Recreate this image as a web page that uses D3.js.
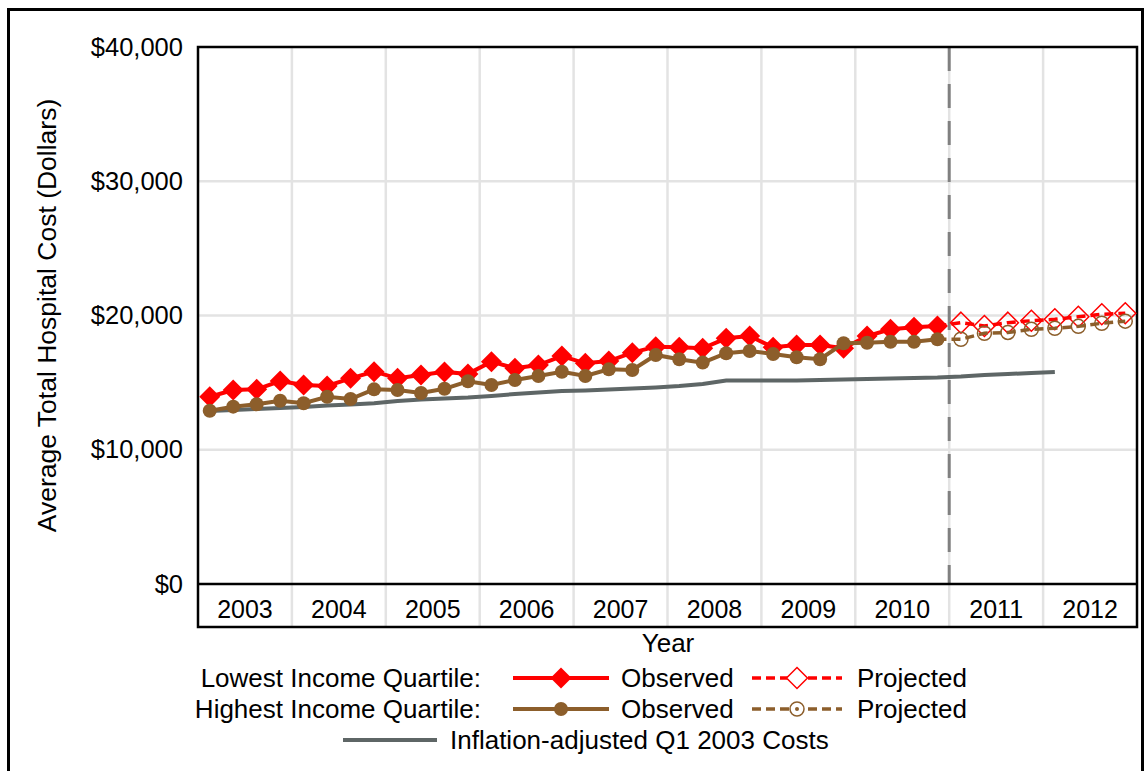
<!DOCTYPE html>
<html><head><meta charset="utf-8">
<script src="https://cdn.jsdelivr.net/npm/d3@7"></script>
<style>body{margin:0;background:#fff;} svg{display:block;font-family:"Liberation Sans",Arial,sans-serif;}</style>
</head><body>
<svg id="c" width="1145" height="771"></svg>
<script>
const years = ["2003","2004","2005","2006","2007","2008","2009","2010","2011","2012"];
const yTicks = [0, 10000, 20000, 30000, 40000];
// quarterly values, quarter index 0 = 2003 Q1
const lowestObserved = [13950,14450,14500,15120,14820,14750,15320,15815,15320,15570,15800,15650,16560,16070,16310,16980,16440,16610,17230,17680,17630,17560,18300,18470,17630,17800,17800,17560,18470,18970,19120,19220];
const highestObserved = [12910,13210,13390,13650,13460,13950,13780,14500,14450,14230,14540,15100,14820,15200,15490,15815,15490,15990,15940,17060,16740,16490,17190,17360,17130,16890,16740,17930,17975,18050,18050,18230];
const lowestProjected = [19220,19465,19220,19465,19610,19720,19910,20090,20170]; // starts at last observed quarter (index 31)
const highestProjected = [18230,18230,18680,18740,18970,19050,19190,19420,19580]; // starts at index 31
const inflationAdjusted = [12890,12960,13040,13110,13185,13300,13370,13460,13630,13745,13820,13890,14005,14150,14265,14375,14415,14490,14560,14640,14750,14900,15160,15160,15160,15160,15195,15230,15270,15310,15345,15380,15455,15570,15640,15720,15790];
const projectionStart = 32; // quarter boundary (2011 Q1)

const svg = d3.select("#c");
const L = 198, R = 1137, T = 47, B = 584, bandB = 627;
const x = d3.scaleLinear().domain([0, years.length * 4]).range([L, R]);
const xq = i => x(i + 0.5);
const y = d3.scaleLinear().domain([0, 40000]).range([B, T]);
const xb = d3.scaleBand().domain(years).range([L, R]);

const RED = "#ff0000", BROWN = "#8c5e2b", GRAY = "#5e6666", GRID = "#e3e3e3";
const FF = "Liberation Sans, Arial, sans-serif";

// outer frame
svg.append("rect").attr("x", 8.5).attr("y", 9.5).attr("width", 1134).attr("height", 800)
  .attr("fill", "none").attr("stroke", "#000").attr("stroke-width", 3);

// gridlines
const g = svg.append("g");
g.selectAll(".hg").data(yTicks.slice(1, -1)).join("line")
  .attr("x1", L).attr("x2", R).attr("y1", d => y(d)).attr("y2", d => y(d))
  .attr("stroke", GRID).attr("stroke-width", 2.5);
g.selectAll(".vg").data(years.slice(1)).join("line")
  .attr("x1", d => xb(d)).attr("x2", d => xb(d)).attr("y1", T).attr("y2", bandB)
  .attr("stroke", GRID).attr("stroke-width", 2.5);

// projection divider
svg.append("line").attr("x1", x(projectionStart)).attr("x2", x(projectionStart))
  .attr("y1", T).attr("y2", B).attr("stroke", "#808080").attr("stroke-width", 3)
  .attr("stroke-dasharray", "24,13");

// y axis tick labels
const yAxis = d3.axisLeft(y).tickValues(yTicks).tickSize(0).tickPadding(15)
  .tickFormat(d => "$" + d3.format(",")(d));
const ya = svg.append("g").attr("transform", `translate(${L},0)`).call(yAxis);
ya.select(".domain").remove();
ya.selectAll("text").attr("font-size", 25.5).attr("fill", "#000").attr("font-family", FF);

// year band axis
const xAxis = d3.axisBottom(xb).tickSize(0).tickPadding(0);
const xa = svg.append("g").attr("transform", `translate(0,${B})`).call(xAxis);
xa.select(".domain").remove();
xa.selectAll("text").attr("font-size", 25).attr("fill", "#000").attr("dy", null)
  .attr("y", 34).attr("font-family", FF);

// frames
svg.append("rect").attr("x", L).attr("y", T).attr("width", R - L).attr("height", bandB - T)
  .attr("fill", "none").attr("stroke", "#000").attr("stroke-width", 2.5);
svg.append("line").attr("x1", L).attr("x2", R).attr("y1", B).attr("y2", B)
  .attr("stroke", "#000").attr("stroke-width", 2.5);

// axis titles
svg.append("text").attr("x", 668).attr("y", 652).attr("text-anchor", "middle")
  .attr("font-size", 26).text("Year");
svg.append("text").attr("transform", `translate(56,${(T + B) / 2}) rotate(-90)`)
  .attr("text-anchor", "middle").attr("font-size", 26.5).text("Average Total Hospital Cost (Dollars)");

const line = d3.line().x(d => xq(d.i)).y(d => y(d.v));
const toPts = (arr, off) => arr.map((v, k) => ({ i: k + off, v }));

// inflation line
svg.append("path").attr("d", line(toPts(inflationAdjusted, 0))).attr("fill", "none")
  .attr("stroke", GRAY).attr("stroke-width", 4);

const diamondPath = s => `M0,${-s}L${s},0L0,${s}L${-s},0Z`;

function drawSeries(obs, proj, color, marker) {
  const po = toPts(obs, 0), pp = toPts(proj, obs.length - 1);
  svg.append("path").attr("d", line(pp)).attr("fill", "none").attr("stroke", color)
    .attr("stroke-width", 3.5).attr("stroke-dasharray", "9,5");
  svg.append("path").attr("d", line(po)).attr("fill", "none").attr("stroke", color)
    .attr("stroke-width", 4);
  const gm = svg.append("g");
  if (marker === "diamond") {
    gm.selectAll("path.f").data(po).join("path").attr("class", "f")
      .attr("transform", d => `translate(${xq(d.i)},${y(d.v)})`).attr("d", diamondPath(10.5)).attr("fill", color);
    gm.selectAll("path.o").data(pp.slice(1)).join("path").attr("class", "o")
      .attr("transform", d => `translate(${xq(d.i)},${y(d.v)})`).attr("d", diamondPath(10.5))
      .attr("fill", "none").attr("stroke", color).attr("stroke-width", 1.5);
  } else {
    gm.selectAll("circle.f").data(po).join("circle").attr("class", "f")
      .attr("cx", d => xq(d.i)).attr("cy", d => y(d.v)).attr("r", 7).attr("fill", color);
    gm.selectAll("circle.o").data(pp.slice(1)).join("circle").attr("class", "o")
      .attr("cx", d => xq(d.i)).attr("cy", d => y(d.v)).attr("r", 7)
      .attr("fill", "none").attr("stroke", color).attr("stroke-width", 1.5);
  }
}
drawSeries(lowestObserved, lowestProjected, RED, "diamond");
drawSeries(highestObserved, highestProjected, BROWN, "circle");

// legend
const lg = svg.append("g").attr("font-size", 26);
const rows = [
  { label: "Lowest Income Quartile:", color: RED, marker: "diamond", y: 678 },
  { label: "Highest Income Quartile:", color: BROWN, marker: "circle", y: 709 }
];
rows.forEach(r => {
  lg.append("text").attr("x", 481).attr("y", r.y).attr("dy", "0.35em").attr("text-anchor", "end").text(r.label);
  lg.append("line").attr("x1", 513).attr("x2", 609).attr("y1", r.y).attr("y2", r.y)
    .attr("stroke", r.color).attr("stroke-width", 4);
  lg.append("line").attr("x1", 752).attr("x2", 842).attr("y1", r.y).attr("y2", r.y)
    .attr("stroke", r.color).attr("stroke-width", 3.5).attr("stroke-dasharray", "9,5");
  if (r.marker === "diamond") {
    lg.append("path").attr("transform", `translate(561,${r.y})`).attr("d", diamondPath(10.5)).attr("fill", r.color);
    lg.append("path").attr("transform", `translate(797,${r.y})`).attr("d", diamondPath(10.5))
      .attr("fill", "#fff").attr("stroke", r.color).attr("stroke-width", 1.5);
  } else {
    lg.append("circle").attr("cx", 561).attr("cy", r.y).attr("r", 7).attr("fill", r.color);
    lg.append("circle").attr("cx", 797).attr("cy", r.y).attr("r", 7).attr("fill", "#fff")
      .attr("stroke", r.color).attr("stroke-width", 1.5);
    lg.append("circle").attr("cx", 797).attr("cy", r.y).attr("r", 2).attr("fill", r.color);
  }
  lg.append("text").attr("x", 621).attr("y", r.y).attr("dy", "0.35em").text("Observed");
  lg.append("text").attr("x", 857).attr("y", r.y).attr("dy", "0.35em").text("Projected");
});
lg.append("line").attr("x1", 343).attr("x2", 437).attr("y1", 740).attr("y2", 740)
  .attr("stroke", GRAY).attr("stroke-width", 4);
lg.append("text").attr("x", 450).attr("y", 740).attr("dy", "0.35em").text("Inflation-adjusted Q1 2003 Costs");
</script>
</body></html>
